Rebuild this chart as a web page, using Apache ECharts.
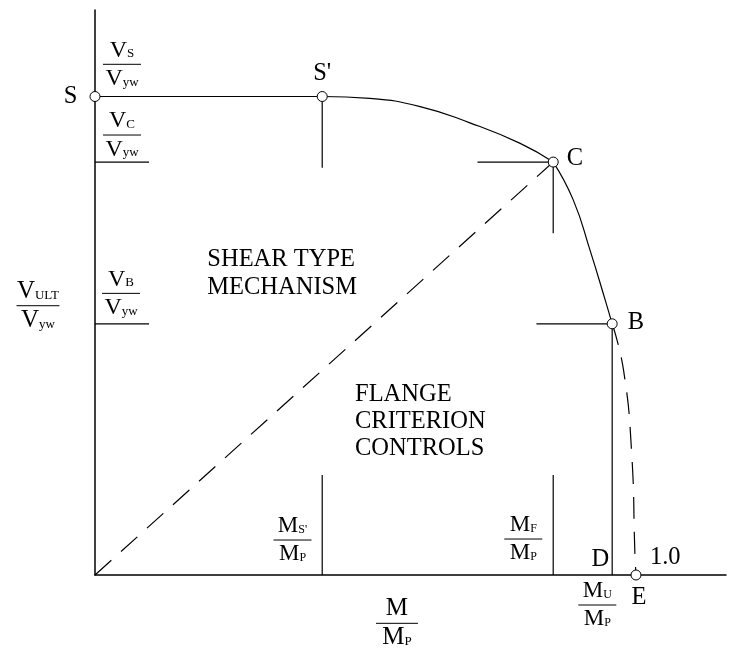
<!DOCTYPE html>
<html>
<head>
<meta charset="utf-8">
<script src="https://cdn.jsdelivr.net/npm/echarts@6/dist/echarts.min.js"></script>
<style>
  html, body { margin: 0; padding: 0; background: #fff; }
  #chart { width: 731px; height: 648px; }
</style>
</head>
<body>
<div id="chart"></div>
<script>
const FONT = '"Liberation Serif", "Times New Roman", serif';

// Key points of the interaction diagram (x = M/Mp, y = Vult/Vyw)
const pS  = [0, 1.0];
const pS1 = [0.42, 1.0];
const pC  = [0.847, 0.863];
const pB  = [0.956, 0.525];
const pD  = [0.956, 0];
const pE  = [1.0, 0];

// Shear-controlled branches S' -> C and C -> B (solid), flange branch B -> E (dashed)
const curveS1C = [[0.42, 1.0], [0.508, 0.996], [0.601, 0.979], [0.693, 0.945], [0.786, 0.902], [0.847, 0.863]];
const curveCB  = [[0.847, 0.863], [0.884, 0.784], [0.915, 0.679], [0.943, 0.575], [0.956, 0.525]];
const curveBE  = [[0.956, 0.525], [0.977, 0.428], [0.992, 0.255], [0.998, 0.046], [1.0, 0]];

const pointNames = ['S', "S'", 'C', 'B', 'E'];
const axisMarks  = ['D', '1.0'];

// Fraction labels: numerator / denominator as [main letter, subscript]
const fracNum = [['V', 'S'], ['V', 'C'], ['V', 'B'], ['V', 'ULT'], ['M', ''], ['M', "S'"], ['M', 'F'], ['M', 'U']];
const fracDen = [['V', 'yw'], ['V', 'yw'], ['V', 'yw'], ['V', 'yw'], ['M', 'P'], ['M', 'P'], ['M', 'P'], ['M', 'P']];

// Region captions
const captionShear  = ['SHEAR TYPE', 'MECHANISM'];
const captionFlange = ['FLANGE', 'CRITERION', 'CONTROLS'];

// ---- layout (anchor of each fraction bar, in axis units) ----
const fracAt = [[0.0499, 1.0673], [0.0499, 0.9195], [0.0481, 0.5886], [-0.1054, 0.5628],
                [0.5582, -0.1010], [0.3651, 0.0731], [0.7917, 0.0752], [0.9285, -0.0627]];
const fracSize = [
  { w: 38, big: 24, sub: 13 }, { w: 38, big: 24, sub: 13 }, { w: 38, big: 24, sub: 13 },
  { w: 43, big: 25, sub: 13 }, { w: 42, big: 25, sub: 13 },
  { w: 38, big: 23, sub: 12 }, { w: 38, big: 23, sub: 12 }, { w: 38, big: 23, sub: 12 }
];

const MARK_DX = 0.14, MARK_DY = 0.149, TICK_LEN = 0.1, FOOT_H = 0.209;

// Construction marks around the key points
const segments = [
  [[0, pC[1]], [TICK_LEN, pC[1]]],
  [[0, pB[1]], [TICK_LEN, pB[1]]],
  [pS, pS1],
  [pS1, [pS1[0], pS1[1] - MARK_DY]],
  [[pC[0] - MARK_DX, pC[1]], pC],
  [pC, [pC[0], pC[1] - MARK_DY]],
  [[pB[0] - MARK_DX, pB[1]], pB],
  [pB, pD],
  [[pS1[0], 0], [pS1[0], FOOT_H]],
  [[pC[0], 0], [pC[0], FOOT_H]]
];

// Text helpers: main letters and subscripts share one baseline
const K_MID = 0.3375; // distance from baseline to the canvas "middle" line, in em
const measureCtx = document.createElement('canvas').getContext('2d');
function textWidth(str, fs) {
  measureCtx.font = fs + 'px ' + FONT;
  return measureCtx.measureText(str).width;
}
function glyph(text, x, yBase, fs) {
  return {
    type: 'text', x: x, y: yBase - K_MID * fs,
    style: { text: text, fontFamily: FONT, fontSize: fs, fill: '#000', align: 'left', verticalAlign: 'middle' }
  };
}
function pushRow(children, pair, cx, yBase, sz) {
  const w1 = textWidth(pair[0], sz.big);
  const w2 = pair[1] ? textWidth(pair[1], sz.sub) : 0;
  const x0 = cx - (w1 + w2) / 2;
  children.push(glyph(pair[0], x0, yBase, sz.big));
  if (pair[1]) children.push(glyph(pair[1], x0 + w1, yBase, sz.sub));
}

function renderFraction(params, api) {
  const i = params.dataIndex;
  const sz = fracSize[i];
  const p = api.coord([api.value(0), api.value(1)]);
  const children = [
    { type: 'line', shape: { x1: p[0] - sz.w / 2, y1: p[1], x2: p[0] + sz.w / 2, y2: p[1] },
      style: { stroke: '#000', lineWidth: 1 } }
  ];
  pushRow(children, fracNum[i], p[0], p[1] - 6, sz);
  pushRow(children, fracDen[i], p[0], p[1] + 0.66 * sz.big + 6.5, sz);
  return { type: 'group', children: children };
}

const LABEL_FS = 24.5;
const labelBase = { show: true, formatter: '{b}', fontFamily: FONT, fontSize: LABEL_FS, color: '#000' };

// "D" sits up-left of its foot point, "1.0" up-right of E
const axisMarkPlace = [
  { dx: -3, dy: -15, align: 'right' },
  { dx: 14, dy: -17, align: 'left' }
];
function renderAxisMark(params, api) {
  const i = params.dataIndex;
  const p = api.coord([api.value(0), api.value(1)]);
  const m = axisMarkPlace[i];
  return {
    type: 'text', x: p[0] + m.dx, y: p[1] + m.dy,
    style: { text: axisMarks[i], fontFamily: FONT, fontSize: LABEL_FS, fill: '#000', align: m.align, verticalAlign: 'middle' }
  };
}

const series = [];
segments.forEach(function (seg) {
  series.push({
    type: 'line', data: seg, showSymbol: false, silent: true,
    lineStyle: { color: '#000', width: 1.2 }, z: 2
  });
});
series.push({
  type: 'line', data: curveS1C, showSymbol: false, smooth: 0.5,
  lineStyle: { color: '#000', width: 1.2 }, z: 3
});
series.push({
  type: 'line', data: curveCB, showSymbol: false, smooth: 0.5,
  lineStyle: { color: '#000', width: 1.2 }, z: 3
});
series.push({
  type: 'line', data: curveBE, showSymbol: false, smooth: 0.5,
  lineStyle: { color: '#000', width: 1.2, type: [22, 13] }, z: 3
});
series.push({
  type: 'line', data: [[0, 0], pC], showSymbol: false,
  lineStyle: { color: '#000', width: 1.2, type: [22, 13] }, z: 3
});
series.push({
  type: 'scatter', symbol: 'circle', symbolSize: 10, z: 10,
  itemStyle: { color: '#fff', borderColor: '#000', borderWidth: 1, opacity: 1 },
  label: labelBase,
  data: [
    { name: pointNames[0], value: pS,  label: { position: 'left', distance: 12 } },
    { name: pointNames[1], value: pS1, label: { position: 'top', distance: 5 } },
    { name: pointNames[2], value: pC,  label: { position: 'right', distance: 8, offset: [0, -3.5] } },
    { name: pointNames[3], value: pB,  label: { position: 'right', distance: 10, offset: [0, -1] } },
    { name: pointNames[4], value: pE,  label: { position: 'bottom', distance: 5, offset: [3, 0] } }
  ]
});
series.push({
  type: 'custom', coordinateSystem: 'cartesian2d', clip: false, z: 12, silent: true,
  renderItem: renderAxisMark,
  data: [pD, pE]
});
series.push({
  type: 'custom', coordinateSystem: 'cartesian2d', clip: false, z: 12, silent: true,
  renderItem: renderFraction,
  data: fracAt
});

const captionStyle = { fontFamily: FONT, fontSize: LABEL_FS, fill: '#000' };
function caption(text, x, y, align) {
  return { type: 'text', x: x, y: y, style: Object.assign({ text: text, align: align, verticalAlign: 'middle' }, captionStyle) };
}
const graphics = [
  caption(captionShear[0], 355, 260, 'right'),
  caption(captionShear[1], 357, 288, 'right'),
  caption(captionFlange[0], 355, 394.5, 'left'),
  caption(captionFlange[1], 355, 421.7, 'left'),
  caption(captionFlange[2], 355, 448.7, 'left')
];

const axisCommon = {
  type: 'value', min: 0,
  axisLine: { show: true, onZero: false, lineStyle: { color: '#000', width: 1.5 } },
  axisTick: { show: false }, axisLabel: { show: false }, splitLine: { show: false }
};

const chart = echarts.init(document.getElementById('chart'), null, { renderer: 'canvas' });
chart.setOption({
  animation: false,
  backgroundColor: '#fff',
  grid: { left: 95, right: 5, top: 10, bottom: 73, containLabel: false },
  xAxis: Object.assign({}, axisCommon, { max: 1.1664 }),
  yAxis: Object.assign({}, axisCommon, { max: 1.1808 }),
  graphic: graphics,
  series: series
});
</script>
</body>
</html>
